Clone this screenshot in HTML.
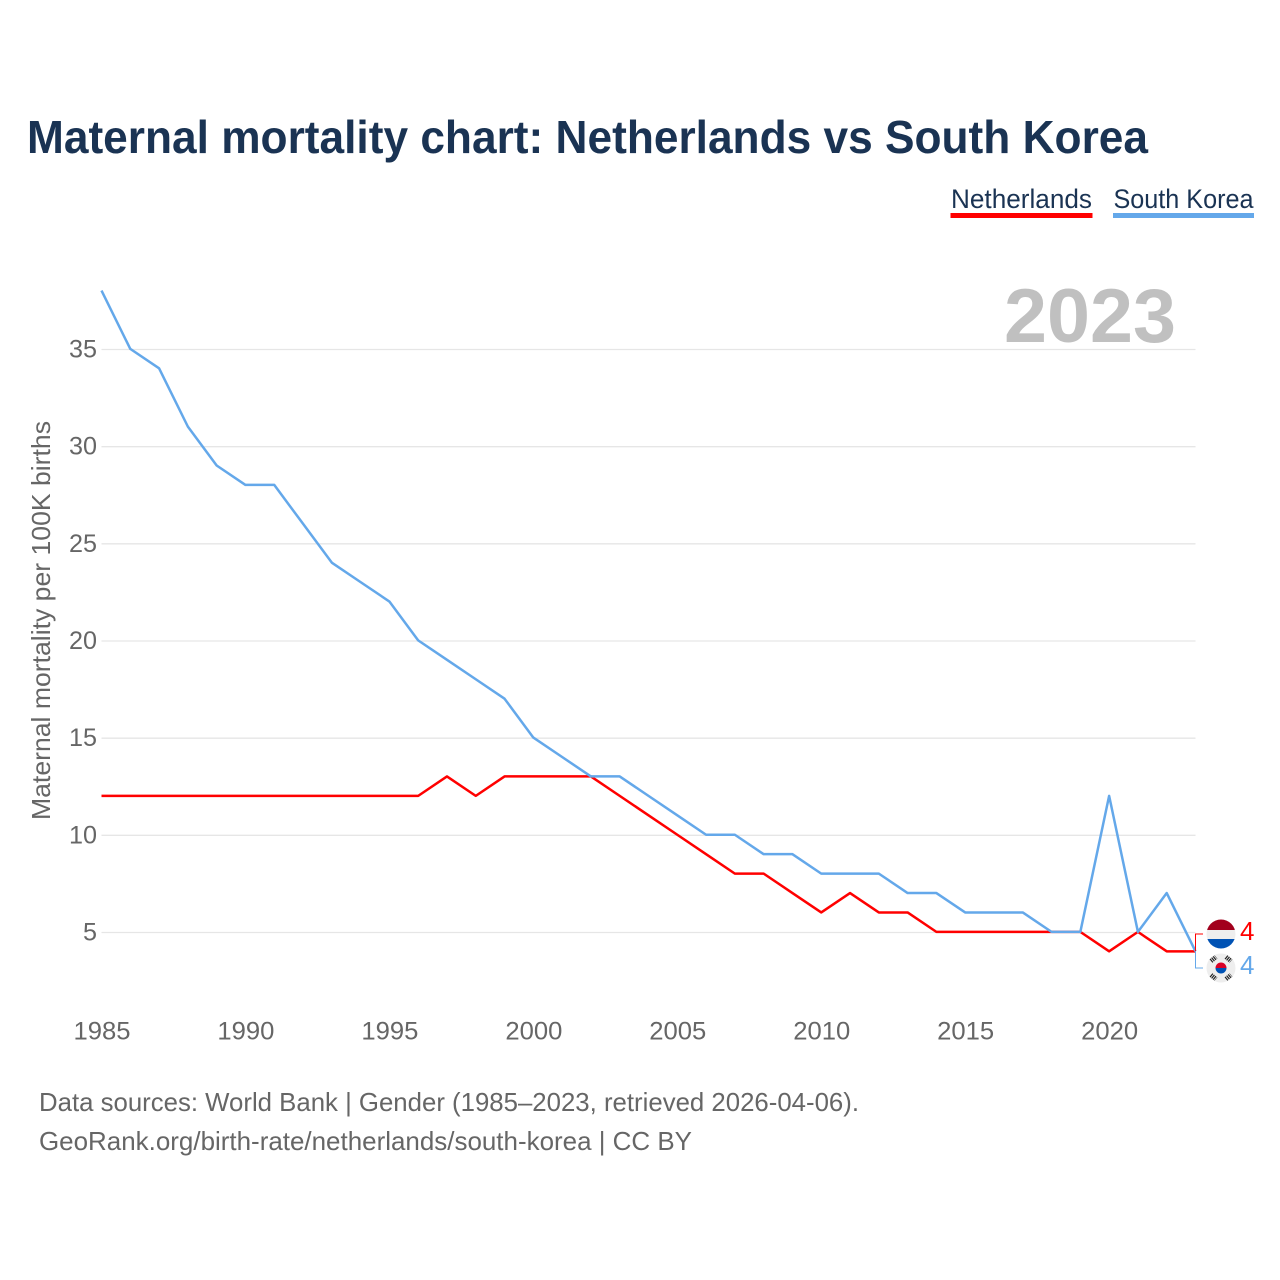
<!DOCTYPE html>
<html lang="en">
<head>
<meta charset="utf-8">
<title>Maternal mortality chart: Netherlands vs South Korea</title>
<style>
html,body{margin:0;padding:0;background:#fff;width:1280px;height:1280px;overflow:hidden}
svg{display:block}
text{font-family:"Liberation Sans",sans-serif}
</style>
</head>
<body>
<svg id="chart" xmlns="http://www.w3.org/2000/svg" width="1280" height="1280" viewBox="0 0 1280 1280">
  <text x="27" y="153" font-size="46" font-weight="700" fill="#1a3353" textLength="1121" lengthAdjust="spacingAndGlyphs">Maternal mortality chart: Netherlands vs South Korea</text>

  <g>
    <text x="951" y="208" font-size="27" fill="#1a3353" textLength="141" lengthAdjust="spacingAndGlyphs">Netherlands</text>
    <rect x="950.5" y="213" width="142" height="5" fill="#ff0000"/>
  </g>
  <g>
    <text x="1113.5" y="208" font-size="27" fill="#1a3353" textLength="140" lengthAdjust="spacingAndGlyphs">South Korea</text>
    <rect x="1113" y="213" width="141" height="5" fill="#64a8ea"/>
  </g>

  <g id="grid"></g>
  <text x="1004" y="342" font-size="76" font-weight="700" fill="#c0c0c0" textLength="172" lengthAdjust="spacingAndGlyphs">2023</text>
  <g id="yticks"></g>
  <g id="xticks"></g>
  <text transform="translate(50 820) rotate(-90)" font-size="26" fill="#666666" textLength="399" lengthAdjust="spacingAndGlyphs">Maternal mortality per 100K births</text>

  <g id="series" transform="translate(0 -0.6)"></g>

  <g id="end-markers">
    <defs>
      <clipPath id="clip-nl"><circle cx="1221" cy="934" r="14.5"/></clipPath>
      <clipPath id="clip-kr-c"><circle cx="1221" cy="968" r="5.5"/></clipPath>
    </defs>
    <path id="connector-nl" d="M1195.5 951V934H1203" fill="none" stroke="#ff0000" stroke-width="1"/>
    <path id="connector-kr" d="M1195.5 951V968H1203" fill="none" stroke="#64a8ea" stroke-width="1"/>
    <g clip-path="url(#clip-nl)">
      <rect x="1206" y="919" width="30" height="11" fill="#a2001d"/>
      <rect x="1206" y="930" width="30" height="9" fill="#eeeeee"/>
      <rect x="1206" y="939" width="30" height="11" fill="#0052b4"/>
    </g>
    <g>
      <circle cx="1221" cy="968" r="14.5" fill="#eeeeee"/>
      <g clip-path="url(#clip-kr-c)">
        <rect x="1215" y="962" width="12" height="6" fill="#d80027"/>
        <rect x="1215" y="968" width="12" height="6" fill="#0052b4"/>
      </g>
      <g stroke="#222222" stroke-width="4.5" stroke-dasharray="1.2 0.8">
        <path d="M1211 961L1216 957M1226 957L1231 961M1211 975L1216 979M1226 979L1231 975"/>
      </g>
    </g>
    <text id="label-nl" x="1240" y="940" font-size="26" fill="#ff0000">4</text>
    <text id="label-kr" x="1240" y="974" font-size="26" fill="#64a8ea">4</text>
  </g>

  <text x="39" y="1111" font-size="26" fill="#666666" textLength="820" lengthAdjust="spacingAndGlyphs">Data sources: World Bank | Gender (1985–2023, retrieved 2026-04-06).</text>
  <text x="39" y="1150" font-size="26" fill="#666666" textLength="653" lengthAdjust="spacingAndGlyphs">GeoRank.org/birth-rate/netherlands/south-korea | CC BY</text>
</svg>
<script>
var years = [1985,1986,1987,1988,1989,1990,1991,1992,1993,1994,1995,1996,1997,1998,1999,2000,2001,2002,2003,2004,2005,2006,2007,2008,2009,2010,2011,2012,2013,2014,2015,2016,2017,2018,2019,2020,2021,2022,2023];
var netherlands = [12,12,12,12,12,12,12,12,12,12,12,12,13,12,13,13,13,13,12,11,10,9,8,8,7,6,7,6,6,5,5,5,5,5,5,4,5,4,4];
var southKorea = [38,35,34,31,29,28,28,26,24,23,22,20,19,18,17,15,14,13,13,12,11,10,10,9,9,8,8,8,7,7,6,6,6,5,5,12,5,7,4];
var yTickValues = [5,10,15,20,25,30,35];
var xTickValues = [1985,1990,1995,2000,2005,2010,2015,2020];

var NS = 'http://www.w3.org/2000/svg';
function xScale(year){ return 101.5 + (year - 1985) * (1195.5 - 101.5) / (2023 - 1985); }
function yScale(v){ return 932.5 - (v - 5) * (932.5 - 349.5) / (35 - 5); }
function make(tag, attrs, parent){
  var el = document.createElementNS(NS, tag);
  for (var k in attrs) el.setAttribute(k, attrs[k]);
  parent.appendChild(el);
  return el;
}
var grid = document.getElementById('grid');
var yticks = document.getElementById('yticks');
var xticks = document.getElementById('xticks');
var series = document.getElementById('series');

yTickValues.forEach(function(v){
  var line = make('line', {x1:101.5, x2:1195.5, y1:yScale(v), y2:yScale(v), stroke:'#e6e6e6', 'stroke-width':1.3}, grid);
  
  
  var t = make('text', {x:97, y:yScale(v)+8, 'text-anchor':'end', 'font-size':25, fill:'#666666', textLength:v < 10 ? 14 : 28, lengthAdjust:'spacingAndGlyphs'}, yticks);
  
  
  t.textContent = v;
});
xTickValues.forEach(function(v){
  var t = make('text', {x:xScale(v)+0.5, y:1039.5, 'text-anchor':'middle', 'font-size':25, fill:'#666666', textLength:57, lengthAdjust:'spacingAndGlyphs'}, xticks);
  
  
  t.textContent = v;
});
function pathFor(values){
  return values.map(function(v, i){ return (i ? 'L' : 'M') + xScale(years[i]).toFixed(2) + ' ' + yScale(v).toFixed(2); }).join('');
}
var lineNl = make('path', {d:pathFor(netherlands), fill:'none', stroke:'#ff0000', 'stroke-width':2.5, 'stroke-linejoin':'round'}, series);


var lineKr = make('path', {d:pathFor(southKorea), fill:'none', stroke:'#64a8ea', 'stroke-width':2.5, 'stroke-linejoin':'round'}, series);


document.getElementById('label-nl').textContent = netherlands[netherlands.length - 1];
document.getElementById('label-kr').textContent = southKorea[southKorea.length - 1];
</script>
</body>
</html>
